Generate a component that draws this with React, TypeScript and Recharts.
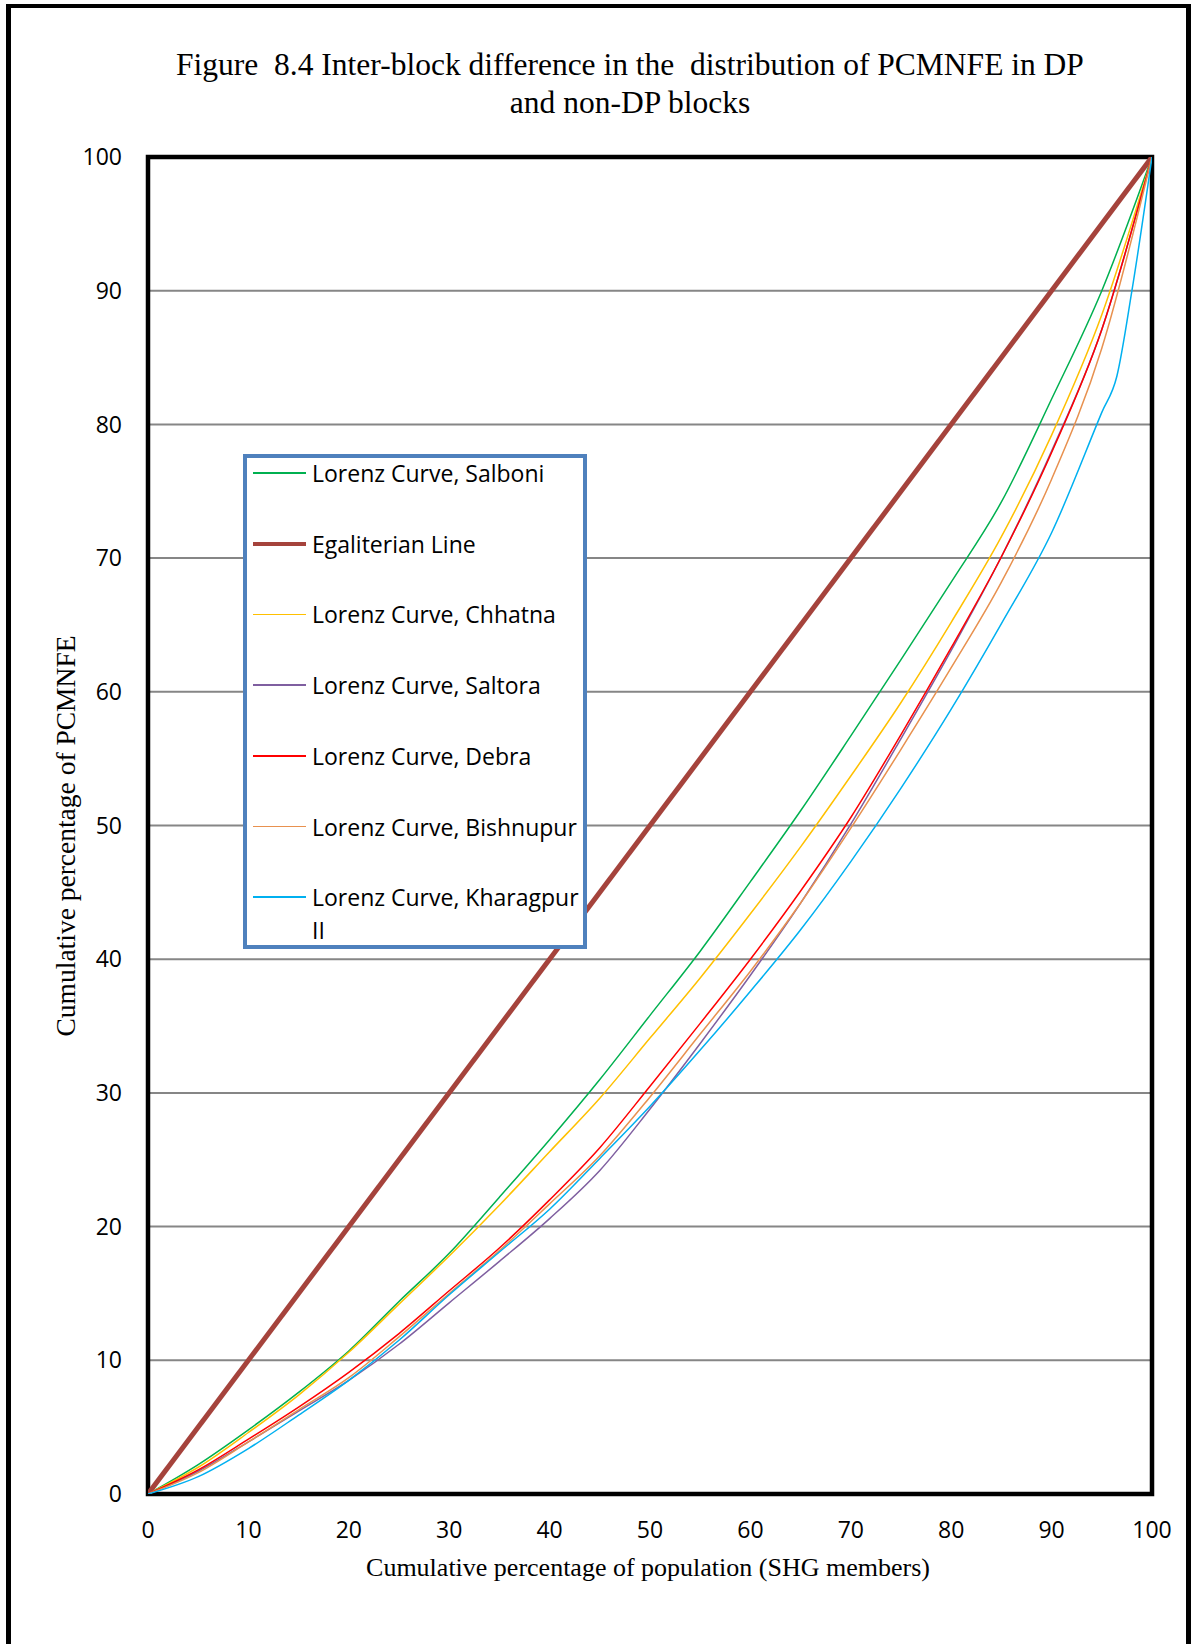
import { CartesianGrid, Legend, Line, LineChart, ReferenceArea, XAxis, YAxis } from 'recharts';

// cumulative % of SHG members (x) vs cumulative % of PCMNFE (y)
const populationShare = [0, 5, 10, 15, 20, 25, 30, 35, 40, 45, 50, 55, 60, 65, 70, 75, 80, 85, 90, 95, 100];
const salboni = [0, 2.2, 4.8, 7.6, 10.7, 14.4, 18.0, 22.2, 26.5, 31.0, 35.8, 40.6, 45.8, 51.1, 56.7, 62.4, 68.2, 74.2, 81.9, 90.0, 100];
const chhatna = [0, 2.0, 4.6, 7.4, 10.6, 14.2, 17.8, 21.6, 25.6, 29.6, 34.1, 38.6, 43.4, 48.4, 53.7, 59.2, 65.2, 71.6, 79.2, 88.2, 100];
const saltora = [0, 1.7, 3.9, 6.2, 8.5, 11.2, 14.3, 17.4, 20.6, 24.2, 28.8, 33.7, 38.8, 44.2, 50.1, 56.5, 63.1, 70.1, 78.0, 87.1, 100];
const debra = [0, 1.8, 4.1, 6.5, 9.1, 12.0, 15.2, 18.4, 22.0, 25.9, 30.5, 35.2, 40.0, 45.1, 50.6, 56.8, 63.3, 70.1, 77.9, 87.1, 100];
const bishnupur = [0, 1.6, 3.9, 6.3, 8.7, 11.75, 15.0, 18.2, 21.7, 25.3, 29.7, 34.4, 39.1, 44.2, 49.8, 55.7, 61.8, 68.2, 75.9, 85.7, 100];
const kharagpurShare = [0, 5, 10, 15, 20, 25, 30, 35, 40, 45, 50, 55, 60, 65, 70, 75, 80, 85, 90, 95, 96.5, 98, 100];
const kharagpur = [0, 1.3, 3.4, 5.9, 8.5, 11.5, 14.9, 18.1, 21.3, 25.1, 29.0, 33.2, 37.6, 42.2, 47.3, 52.8, 58.7, 65.1, 71.9, 80.9, 83.6, 90.0, 100];
const egalitarianShare = [0, 100];
const egalitarian = [0, 100];

const axisTicks = [0, 10, 20, 30, 40, 50, 60, 70, 80, 90, 100];

interface Series {
  key: string;
  label: string;
  color: string;
  width: number;
  xs: number[];
  ys: number[];
}

const series: Series[] = [
  { key: 'salboni', label: 'Lorenz Curve, Salboni', color: '#00b050', width: 1.5, xs: populationShare, ys: salboni },
  { key: 'egal', label: 'Egaliterian Line', color: '#a5433c', width: 5, xs: egalitarianShare, ys: egalitarian },
  { key: 'chhatna', label: 'Lorenz Curve, Chhatna', color: '#ffc000', width: 1.5, xs: populationShare, ys: chhatna },
  { key: 'saltora', label: 'Lorenz Curve, Saltora', color: '#7f5fa0', width: 1.5, xs: populationShare, ys: saltora },
  { key: 'debra', label: 'Lorenz Curve, Debra', color: '#ff0000', width: 1.5, xs: populationShare, ys: debra },
  { key: 'bishnupur', label: 'Lorenz Curve, Bishnupur', color: '#e8914f', width: 1.5, xs: populationShare, ys: bishnupur },
  { key: 'kharagpur', label: 'Lorenz Curve, Kharagpur II', color: '#00b0f0', width: 1.5, xs: kharagpurShare, ys: kharagpur },
];

const SANS = "'Open Sans', sans-serif";
const SERIF = "'Liberation Serif', 'Times New Roman', serif";

function LegendBox() {
  return (
    <div
      style={{
        position: 'relative',
        width: 336,
        height: 487,
        border: '4px solid #4f81bd',
        background: '#fff',
        fontFamily: SANS,
        fontSize: 23,
        color: '#000',
      }}
    >
      {series.map((s, i) => (
        <div key={s.key} style={{ position: 'absolute', left: 6, top: 15 + i * 70.7 - 16, display: 'flex', alignItems: 'flex-start' }}>
          <div style={{ width: 53, height: 32, display: 'flex', alignItems: 'center' }}>
            <div style={{ width: 53, height: s.width > 2 ? 4 : 1.5, background: s.color }} />
          </div>
          <div style={{ marginLeft: 6, width: 268, lineHeight: '33px', whiteSpace: 'normal' }}>{s.label}</div>
        </div>
      ))}
    </div>
  );
}

export default function App() {
  return (
    <div style={{ position: 'absolute', left: 0, top: 0, width: 1192, height: 1644, overflow: 'hidden', background: '#fff' }}>
      <div
        style={{
          position: 'absolute',
          left: 6,
          top: 4,
          width: 1175,
          height: 1700,
          borderLeft: '5px solid #000',
          borderTop: '4px solid #000',
          borderRight: '5px solid #000',
        }}
      />
      <div
        style={{
          position: 'absolute',
          left: 130,
          top: 46,
          width: 1000,
          textAlign: 'center',
          fontFamily: SERIF,
          fontSize: 31.5,
          lineHeight: '38px',
          whiteSpace: 'pre',
        }}
      >
        {'Figure  8.4 Inter-block difference in the  distribution of PCMNFE in DP\nand non-DP blocks'}
      </div>

      <div style={{ position: 'absolute', left: 0, top: 0 }}>
        <LineChart width={1192} height={1644} margin={{ top: 157, right: 40, bottom: 0, left: 0 }}>
          <CartesianGrid vertical={false} stroke="#868686" strokeWidth={2} />
          <XAxis
            dataKey="x"
            type="number"
            domain={[0, 100]}
            ticks={axisTicks}
            height={150}
            axisLine={false}
            tickLine={false}
            tickSize={0}
            tickMargin={28}
            tick={{ fill: '#000', fontSize: 23, fontFamily: SANS }}
            allowDataOverflow
          />
          <YAxis
            dataKey="y"
            type="number"
            domain={[0, 100]}
            ticks={axisTicks}
            width={148}
            axisLine={false}
            tickLine={false}
            tickSize={0}
            tickMargin={26}
            tick={{ fill: '#000', fontSize: 23, fontFamily: SANS }}
            allowDataOverflow
          />
          <ReferenceArea x1={0} x2={100} y1={0} y2={100} fill="none" stroke="#000" strokeWidth={4.5} ifOverflow="visible" />
          {series.map(s => (
            <Line
              key={s.key}
              data={s.xs.map((x, i) => ({ x, y: s.ys[i] }))}
              dataKey="y"
              name={s.label}
              type={s.width > 2 ? 'linear' : 'monotone'}
              stroke={s.color}
              strokeWidth={s.width}
              dot={false}
              activeDot={false}
              isAnimationActive={false}
            />
          ))}
          <Legend
            layout="vertical"
            align="center"
            verticalAlign="middle"
            content={() => <LegendBox />}
            wrapperStyle={{ position: 'absolute', left: 243, top: 454, width: 344, height: 495 }}
          />
        </LineChart>
      </div>

      <div
        style={{
          position: 'absolute',
          left: 348,
          top: 1553,
          width: 600,
          textAlign: 'center',
          fontFamily: SERIF,
          fontSize: 26,
          lineHeight: '30px',
        }}
      >
        Cumulative percentage of population (SHG members)
      </div>
      <div
        style={{
          position: 'absolute',
          left: 66 - 250,
          top: 836 - 15,
          width: 500,
          height: 30,
          textAlign: 'center',
          fontFamily: SERIF,
          fontSize: 27.5,
          lineHeight: '30px',
          transform: 'rotate(-90deg)',
        }}
      >
        Cumulative percentage of PCMNFE
      </div>
    </div>
  );
}
